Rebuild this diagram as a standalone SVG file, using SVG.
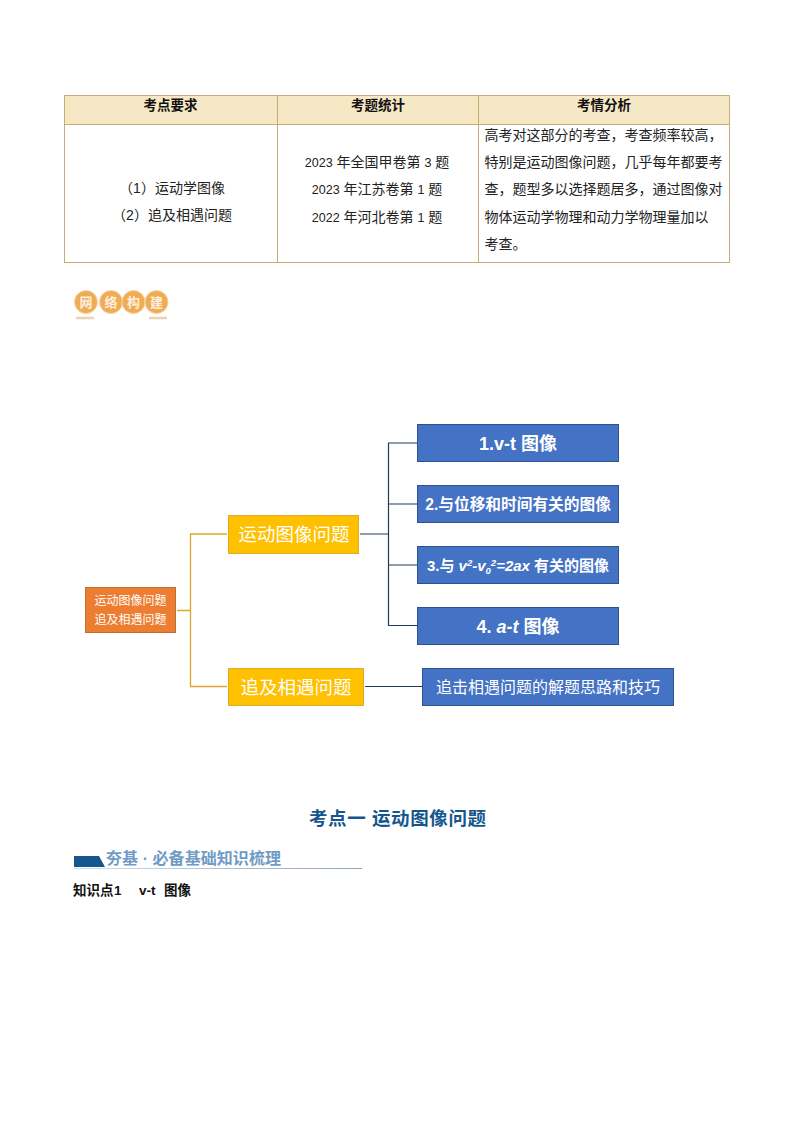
<svg xmlns="http://www.w3.org/2000/svg" width="794" height="1123" viewBox="0 0 794 1123">
<defs>
<linearGradient id="rule" x1="0" x2="1" y1="0" y2="0"><stop offset="0" stop-color="#cfe0ee"/><stop offset="1" stop-color="#8fa6bd"/></linearGradient>
</defs>
<style>
text{font-family:"Liberation Sans","Noto Sans CJK SC",sans-serif}
.m{text-anchor:middle}
.h{font-size:13.5px;font-weight:700;fill:#111}
.b{font-size:14px;fill:#222}
.n{font-size:12.5px}
.w{fill:#fff;text-anchor:middle}
.blue{fill:#4472c4;stroke:#2f528f;stroke-width:1}
.yel{fill:#ffc000;stroke:#e0ad2a;stroke-width:1}
.gold{fill:none;stroke:#d9a92e;stroke-width:1.3}
.navy{fill:none;stroke:#1f3a5a;stroke-width:1.2}
.grid{fill:none;stroke:#c4ad78;stroke-width:1}
.logo{fill:#f0ab55;stroke:#f8d6a8;stroke-width:1}
.lt{font-size:13px;font-weight:700;fill:#fdeedd;text-anchor:middle}
</style>
<g id="table">
<rect x="64.5" y="95.5" width="665" height="29" fill="#f7e8c5"/>
<rect class="grid" x="64.5" y="95.5" width="665" height="167"/>
<path class="grid" d="M64.5 124.5H729.5M277.5 95.5V262.5M478.5 95.5V262.5"/>
<text class="h m" x="170.5" y="110">考点要求</text>
<text class="h m" x="378" y="110">考题统计</text>
<text class="h m" x="604" y="110">考情分析</text>
<text class="b m" x="172" y="193">（1）运动学图像</text>
<text class="b m" x="172" y="220">（2）追及相遇问题</text>
<text class="b m" x="377" y="167"><tspan class="n">2023</tspan> 年全国甲卷第 <tspan class="n">3</tspan> 题</text>
<text class="b m" x="377" y="194"><tspan class="n">2023</tspan> 年江苏卷第 <tspan class="n">1</tspan> 题</text>
<text class="b m" x="377" y="222"><tspan class="n">2022</tspan> 年河北卷第 <tspan class="n">1</tspan> 题</text>
<text class="b" x="484.500" y="140">高考对这部分的考查，考查频率较高，</text>
<text class="b" x="484.500" y="167">特别是运动图像问题，几乎每年都要考</text>
<text class="b" x="484.500" y="194">查，题型多以选择题居多，通过图像对</text>
<text class="b" x="484.500" y="222">物体运动学物理和动力学物理量加以</text>
<text class="b" x="484.500" y="249">考查。</text>
</g>
<g id="logo">
<circle class="logo" cx="86" cy="302" r="11.5"/><circle class="logo" cx="111" cy="302" r="11.5"/><circle class="logo" cx="133.500" cy="302" r="11.5"/><circle class="logo" cx="156.500" cy="302" r="11.5"/>
<text class="lt" x="86" y="306.500">网</text><text class="lt" x="111" y="306.500">络</text><text class="lt" x="133.500" y="306.500">构</text><text class="lt" x="156.500" y="306.500">建</text>
<path d="M76 318H94M149 318H167" stroke="#e9d3b2" stroke-width="2.500" fill="none"/>
</g>
<g id="connectors">
<path class="gold" d="M177 610.500H190.500M227 534H190.500V686.500H227"/>
<path class="navy" d="M360 534H388.500M417 443H388.500V625.500H417M388.500 504H417M388.500 565H417M365 686.500H422"/>
</g>
<g id="root"><rect x="85.500" y="587.500" width="90" height="45" fill="#ed7d31" stroke="#b9722f"/><text class="w" font-size="12" x="130.500" y="605">运动图像问题</text><text class="w" font-size="12" x="130.500" y="624">追及相遇问题</text></g>
<g id="n-motion"><rect class="yel" x="228.500" y="515.500" width="130" height="38"/><text class="w" font-size="18.500" x="294" y="541">运动图像问题</text></g>
<g id="n-chase"><rect class="yel" x="228.500" y="668.500" width="135" height="37"/><text class="w" font-size="18.500" x="296" y="693.500">追及相遇问题</text></g>
<g id="n1"><rect class="blue" x="417.500" y="424.500" width="201" height="37"/><text class="w" font-size="18" font-weight="700" x="518" y="450">1.v-t 图像</text></g>
<g id="n2"><rect class="blue" x="417.500" y="485.500" width="201" height="37"/><text class="w" font-size="15.700" font-weight="700" x="518" y="510">2.与位移和时间有关的图像</text></g>
<g id="n3"><rect class="blue" x="417.500" y="546.500" width="201" height="37"/><text class="w" font-size="15" font-weight="700" x="518" y="571">3.与 <tspan font-style="italic">v<tspan font-size="9.500" dy="-5">2</tspan><tspan dy="5">-v</tspan><tspan font-size="9.500" dy="3">0</tspan><tspan font-size="9.500" dy="-8">2</tspan><tspan dy="5">=2ax</tspan></tspan> 有关的图像</text></g>
<g id="n4"><rect class="blue" x="417.500" y="607.500" width="201" height="37"/><text class="w" font-size="18" font-weight="700" x="518" y="632.500">4. <tspan font-style="italic">a-t</tspan> 图像</text></g>
<g id="n5"><rect class="blue" x="422.500" y="668.500" width="251" height="37"/><text class="w" font-size="16" x="548" y="693">追击相遇问题的解题思路和技巧</text></g>
<g id="heading">
<text x="309" y="825" font-size="18.500" font-weight="700" fill="#15578c" textLength="177">考点一 运动图像问题</text>
<path d="M74 856H99L105 867H74Z" fill="#15578c"/>
<text x="106" y="864" font-size="16" font-weight="700" fill="#6f9bc6" textLength="175">夯基 · 必备基础知识梳理</text>
<rect x="74" y="868" width="288" height="1" fill="url(#rule)"/>
<text x="73" y="895" font-size="13.500" font-weight="700" fill="#111">知识点</text>
<text x="114" y="895" font-size="13.500" font-weight="700" fill="#111">1</text>
<text x="139" y="895" font-size="13.500" font-weight="700" fill="#111">v-t</text>
<text x="164" y="895" font-size="13.500" font-weight="700" fill="#111">图像</text>
</g>
</svg>
